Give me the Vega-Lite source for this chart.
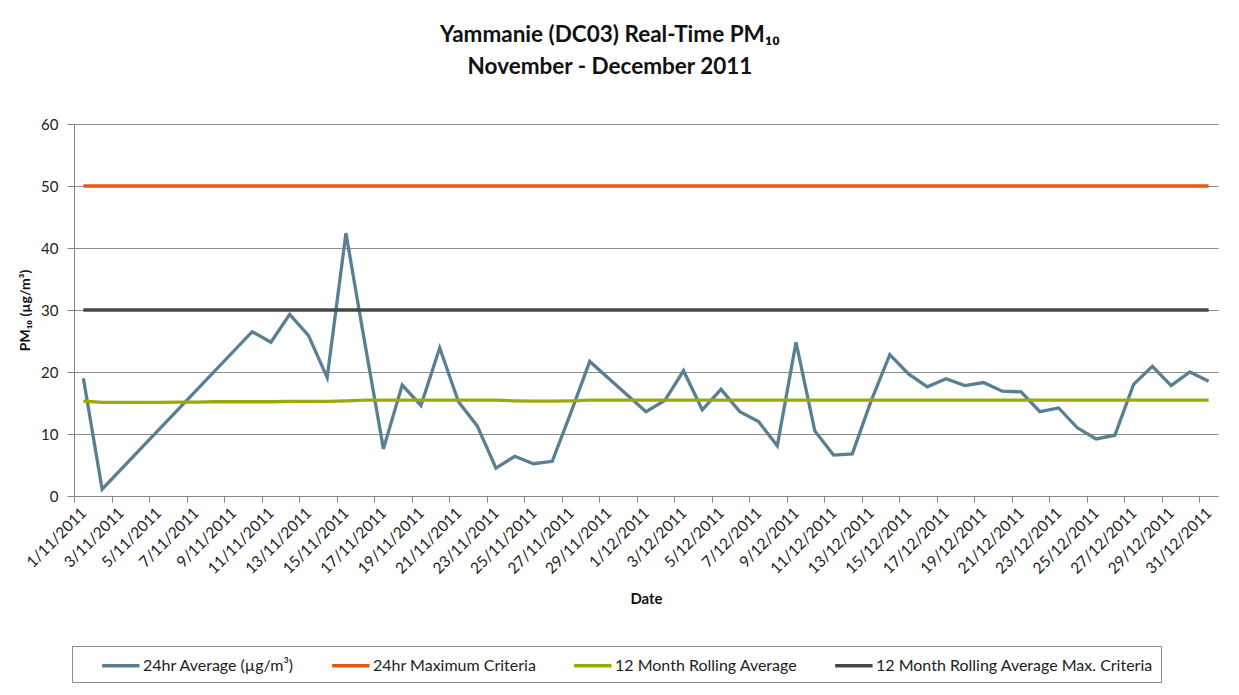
{
  "$schema": "https://vega.github.io/schema/vega-lite/v6.json",
  "width": 1144,
  "height": 372,
  "autosize": {"type": "none"},
  "padding": {"left": 74, "top": 124, "right": 21, "bottom": 199},
  "background": "white",
  "config": {"font": "Lato", "view": {"stroke": null}},
  "title": {
    "text": ["Yammanie (DC03) Real-Time PM₁₀", "November - December 2011"],
    "font": "Lato", "fontSize": 22.5, "fontWeight": "bold", "color": "#111111",
    "anchor": "middle", "frame": "group", "dx": -36, "offset": 39, "lineHeight": 31.5
  },
  "data": {"values": [
    {"i": 1, "date": "1/11/2011", "avg": 19.0, "max": 50, "roll": 15.3, "rmax": 30},
    {"i": 2, "date": "2/11/2011", "avg": 1.1, "max": 50, "roll": 15.1, "rmax": 30},
    {"i": 3, "date": "3/11/2011", "max": 50, "roll": 15.1, "rmax": 30},
    {"i": 4, "date": "4/11/2011", "max": 50, "roll": 15.1, "rmax": 30},
    {"i": 5, "date": "5/11/2011", "max": 50, "roll": 15.1, "rmax": 30},
    {"i": 6, "date": "6/11/2011", "max": 50, "roll": 15.15, "rmax": 30},
    {"i": 7, "date": "7/11/2011", "max": 50, "roll": 15.15, "rmax": 30},
    {"i": 8, "date": "8/11/2011", "max": 50, "roll": 15.2, "rmax": 30},
    {"i": 9, "date": "9/11/2011", "max": 50, "roll": 15.2, "rmax": 30},
    {"i": 10, "date": "10/11/2011", "avg": 26.5, "max": 50, "roll": 15.2, "rmax": 30},
    {"i": 11, "date": "11/11/2011", "avg": 24.8, "max": 50, "roll": 15.2, "rmax": 30},
    {"i": 12, "date": "12/11/2011", "avg": 29.3, "max": 50, "roll": 15.25, "rmax": 30},
    {"i": 13, "date": "13/11/2011", "avg": 25.9, "max": 50, "roll": 15.25, "rmax": 30},
    {"i": 14, "date": "14/11/2011", "avg": 19.1, "max": 50, "roll": 15.25, "rmax": 30},
    {"i": 15, "date": "15/11/2011", "avg": 42.4, "max": 50, "roll": 15.35, "rmax": 30},
    {"i": 16, "date": "16/11/2011", "avg": 24.8, "max": 50, "roll": 15.45, "rmax": 30},
    {"i": 17, "date": "17/11/2011", "avg": 7.6, "max": 50, "roll": 15.45, "rmax": 30},
    {"i": 18, "date": "18/11/2011", "avg": 17.9, "max": 50, "roll": 15.45, "rmax": 30},
    {"i": 19, "date": "19/11/2011", "avg": 14.6, "max": 50, "roll": 15.45, "rmax": 30},
    {"i": 20, "date": "20/11/2011", "avg": 23.9, "max": 50, "roll": 15.45, "rmax": 30},
    {"i": 21, "date": "21/11/2011", "avg": 15.2, "max": 50, "roll": 15.45, "rmax": 30},
    {"i": 22, "date": "22/11/2011", "avg": 11.3, "max": 50, "roll": 15.45, "rmax": 30},
    {"i": 23, "date": "23/11/2011", "avg": 4.5, "max": 50, "roll": 15.45, "rmax": 30},
    {"i": 24, "date": "24/11/2011", "avg": 6.4, "max": 50, "roll": 15.35, "rmax": 30},
    {"i": 25, "date": "25/11/2011", "avg": 5.2, "max": 50, "roll": 15.3, "rmax": 30},
    {"i": 26, "date": "26/11/2011", "avg": 5.6, "max": 50, "roll": 15.3, "rmax": 30},
    {"i": 27, "date": "27/11/2011", "avg": 13.5, "max": 50, "roll": 15.35, "rmax": 30},
    {"i": 28, "date": "28/11/2011", "avg": 21.7, "max": 50, "roll": 15.45, "rmax": 30},
    {"i": 29, "date": "29/11/2011", "avg": 19.0, "max": 50, "roll": 15.45, "rmax": 30},
    {"i": 30, "date": "30/11/2011", "avg": 16.3, "max": 50, "roll": 15.45, "rmax": 30},
    {"i": 31, "date": "1/12/2011", "avg": 13.6, "max": 50, "roll": 15.45, "rmax": 30},
    {"i": 32, "date": "2/12/2011", "avg": 15.4, "max": 50, "roll": 15.45, "rmax": 30},
    {"i": 33, "date": "3/12/2011", "avg": 20.2, "max": 50, "roll": 15.45, "rmax": 30},
    {"i": 34, "date": "4/12/2011", "avg": 13.9, "max": 50, "roll": 15.45, "rmax": 30},
    {"i": 35, "date": "5/12/2011", "avg": 17.2, "max": 50, "roll": 15.45, "rmax": 30},
    {"i": 36, "date": "6/12/2011", "avg": 13.6, "max": 50, "roll": 15.45, "rmax": 30},
    {"i": 37, "date": "7/12/2011", "avg": 12.0, "max": 50, "roll": 15.45, "rmax": 30},
    {"i": 38, "date": "8/12/2011", "avg": 8.1, "max": 50, "roll": 15.45, "rmax": 30},
    {"i": 39, "date": "9/12/2011", "avg": 24.8, "max": 50, "roll": 15.45, "rmax": 30},
    {"i": 40, "date": "10/12/2011", "avg": 10.5, "max": 50, "roll": 15.45, "rmax": 30},
    {"i": 41, "date": "11/12/2011", "avg": 6.6, "max": 50, "roll": 15.45, "rmax": 30},
    {"i": 42, "date": "12/12/2011", "avg": 6.8, "max": 50, "roll": 15.45, "rmax": 30},
    {"i": 43, "date": "13/12/2011", "avg": 15.3, "max": 50, "roll": 15.45, "rmax": 30},
    {"i": 44, "date": "14/12/2011", "avg": 22.8, "max": 50, "roll": 15.45, "rmax": 30},
    {"i": 45, "date": "15/12/2011", "avg": 19.7, "max": 50, "roll": 15.45, "rmax": 30},
    {"i": 46, "date": "16/12/2011", "avg": 17.6, "max": 50, "roll": 15.45, "rmax": 30},
    {"i": 47, "date": "17/12/2011", "avg": 18.9, "max": 50, "roll": 15.45, "rmax": 30},
    {"i": 48, "date": "18/12/2011", "avg": 17.8, "max": 50, "roll": 15.45, "rmax": 30},
    {"i": 49, "date": "19/12/2011", "avg": 18.3, "max": 50, "roll": 15.45, "rmax": 30},
    {"i": 50, "date": "20/12/2011", "avg": 16.9, "max": 50, "roll": 15.45, "rmax": 30},
    {"i": 51, "date": "21/12/2011", "avg": 16.8, "max": 50, "roll": 15.45, "rmax": 30},
    {"i": 52, "date": "22/12/2011", "avg": 13.6, "max": 50, "roll": 15.45, "rmax": 30},
    {"i": 53, "date": "23/12/2011", "avg": 14.2, "max": 50, "roll": 15.45, "rmax": 30},
    {"i": 54, "date": "24/12/2011", "avg": 11.0, "max": 50, "roll": 15.45, "rmax": 30},
    {"i": 55, "date": "25/12/2011", "avg": 9.2, "max": 50, "roll": 15.45, "rmax": 30},
    {"i": 56, "date": "26/12/2011", "avg": 9.8, "max": 50, "roll": 15.45, "rmax": 30},
    {"i": 57, "date": "27/12/2011", "avg": 18.0, "max": 50, "roll": 15.45, "rmax": 30},
    {"i": 58, "date": "28/12/2011", "avg": 20.9, "max": 50, "roll": 15.45, "rmax": 30},
    {"i": 59, "date": "29/12/2011", "avg": 17.8, "max": 50, "roll": 15.45, "rmax": 30},
    {"i": 60, "date": "30/12/2011", "avg": 20.0, "max": 50, "roll": 15.45, "rmax": 30},
    {"i": 61, "date": "31/12/2011", "avg": 18.5, "max": 50, "roll": 15.45, "rmax": 30}
  ]},
  "transform": [
    {"fold": ["avg", "max", "roll", "rmax"], "as": ["series", "value"]},
    {"filter": "isValid(datum.value)"}
  ],
  "mark": {"type": "line", "strokeWidth": 3.3, "strokeJoin": "miter"},
  "encoding": {
    "x": {
      "field": "date", "type": "ordinal", "sort": null,
      "scale": {"type": "point", "padding": 0.5},
      "axis": {
        "title": "Date",
        "values": ["1/11/2011","3/11/2011","5/11/2011","7/11/2011","9/11/2011","11/11/2011","13/11/2011","15/11/2011","17/11/2011","19/11/2011","21/11/2011","23/11/2011","25/11/2011","27/11/2011","29/11/2011","1/12/2011","3/12/2011","5/12/2011","7/12/2011","9/12/2011","11/12/2011","13/12/2011","15/12/2011","17/12/2011","19/12/2011","21/12/2011","23/12/2011","25/12/2011","27/12/2011","29/12/2011","31/12/2011"],
        "labelAngle": -45, "labelAlign": "right", "labelBaseline": "middle",
        "labelFont": "Lato", "labelFontSize": 15.5, "labelColor": "#222222",
        "labelPadding": 8, "labelOverlap": false,
        "tickOffset": -9.375, "labelOffset": 9.375,
        "tickSize": 6, "tickColor": "#868686", "domainColor": "#868686",
        "grid": false,
        "titleFont": "Lato", "titleFontSize": 15, "titleFontWeight": "bold", "titleColor": "#111111",
        "titlePadding": 15
      }
    },
    "y": {
      "field": "value", "type": "quantitative",
      "scale": {"domain": [0, 60], "nice": false},
      "axis": {
        "title": "PM₁₀ (µg/m³)",
        "values": [0, 10, 20, 30, 40, 50, 60],
        "labelFont": "Lato", "labelFontSize": 15, "labelColor": "#222222",
        "labelPadding": 9, "tickSize": 7, "tickColor": "#868686", "domainColor": "#868686",
        "grid": true, "gridColor": "#8c8c8c", "gridWidth": 1,
        "titleFont": "Lato", "titleFontSize": 14, "titleFontWeight": "bold", "titleColor": "#111111",
        "titlePadding": 8
      }
    },
    "color": {
      "field": "series", "type": "nominal",
      "scale": {"domain": ["avg", "max", "roll", "rmax"], "range": ["#5A7F93", "#E8590C", "#9AAB07", "#474747"]},
      "legend": {
        "orient": "none", "legendX": -2, "legendY": 522, "direction": "horizontal",
        "title": " ", "titleOrient": "left", "titlePadding": 20, "titleFontSize": 10,
        "labelExpr": "{'avg': '24hr Average (µg/m³)', 'max': '24hr Maximum Criteria', 'roll': '12 Month Rolling Average', 'rmax': '12 Month Rolling Average Max. Criteria'}[datum.label]",
        "symbolType": "M-1,0H3", "symbolSize": 350, "symbolStrokeWidth": 3.5,
        "labelFont": "Lato", "labelFontSize": 16, "labelColor": "#222222", "labelOffset": 20, "labelLimit": 400,
        "columnPadding": 30, "padding": 8, "strokeColor": "#8c8c8c", "fillColor": "white"
      }
    },
    "order": {"field": "i", "type": "quantitative"}
  }
}
